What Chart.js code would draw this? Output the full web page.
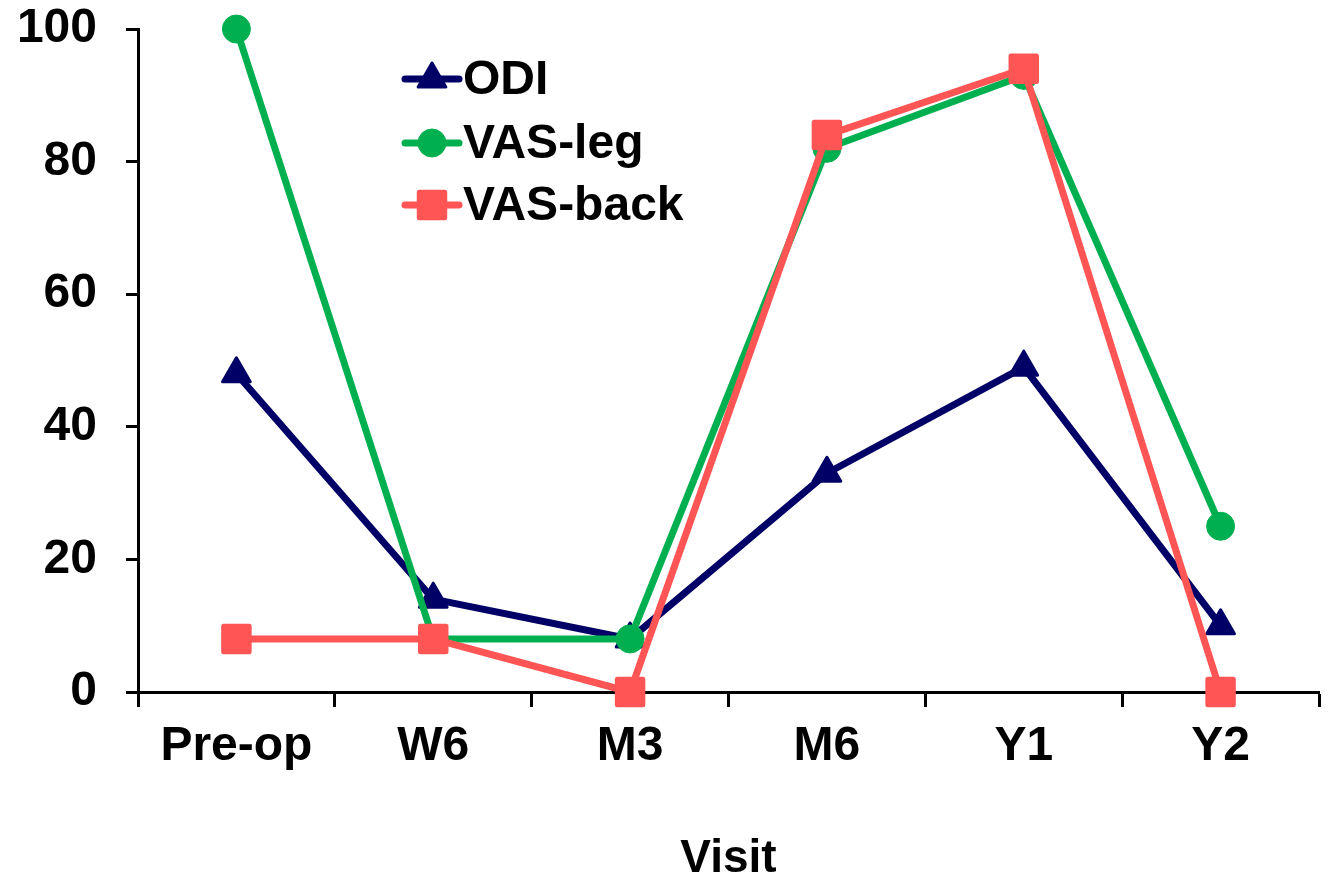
<!DOCTYPE html>
<html><head><meta charset="utf-8">
<script src="https://cdn.jsdelivr.net/npm/chart.js@4/dist/chart.umd.min.js"></script>
<style>html,body{margin:0;padding:0;background:#fff;} #wrap{width:1332px;height:882px;}</style>
</head><body><div id="wrap"><canvas id="c" width="1332" height="882"></canvas></div>
<script>
const visits = ['Pre-op','W6','M3','M6','Y1','Y2'];
const odi = [48,14,8,33,49,10];
const vasLeg = [100,8,8,82,93,25];
const vasBack = [8,8,0,84,94,0];
const yTicks = [0,20,40,60,80,100];
const seriesNames = ['ODI','VAS-leg','VAS-back'];
const seriesColors = ['#000066','#00B050','#FF5555'];

const FONT = 'Arial, "Liberation Sans", sans-serif';

const joinPlugin = {
  id: 'roundJoin',
  beforeDatasetDraw(chart){ chart.ctx.lineJoin = 'round'; }
};

const legendPlugin = {
  id: 'inLegend',
  afterDatasetsDraw(chart){
    const ctx = chart.ctx;
    const rows = [79, 143, 205];
    chart.data.datasets.forEach((ds, i) => {
      const y = rows[i];
      ctx.save();
      ctx.strokeStyle = ds.borderColor; ctx.lineWidth = 7; ctx.lineCap = 'round';
      ctx.beginPath(); ctx.moveTo(405, y); ctx.lineTo(459, y); ctx.stroke();
      ctx.fillStyle = ds.pointBackgroundColor; ctx.strokeStyle = ds.pointBorderColor;
      ctx.lineWidth = ds.pointBorderWidth; ctx.lineJoin = 'round';
      Chart.helpers.drawPoint(ctx, {pointStyle: ds.pointStyle, radius: ds.pointRadius, rotation: 0, borderWidth: ds.pointBorderWidth}, 432, y);
      ctx.fillStyle = '#000'; ctx.font = 'bold 48px ' + FONT;
      ctx.textBaseline = 'middle'; ctx.textAlign = 'left';
      ctx.fillText(ds.label, 463, y + 2);
      ctx.restore();
    });
  }
};

const styles = [
  {pointStyle: 'triangle', pointRadius: 16, pointBorderWidth: 3, order: 3},
  {pointStyle: 'circle', pointRadius: 14, pointBorderWidth: 1, order: 2},
  {pointStyle: 'rect', pointRadius: 18, pointBorderWidth: 5, order: 1}
];
const values = [odi, vasLeg, vasBack];

const datasets = values.map((v, i) => ({
  label: seriesNames[i],
  data: v,
  borderColor: seriesColors[i],
  backgroundColor: seriesColors[i],
  pointBackgroundColor: seriesColors[i],
  pointBorderColor: seriesColors[i],
  pointHoverRadius: styles[i].pointRadius,
  borderWidth: 7,
  borderJoinStyle: 'round',
  tension: 0,
  clip: false,
  ...styles[i]
}));

function noPad(s){ s.paddingTop = 0; s.paddingBottom = 0; s.paddingLeft = 0; s.paddingRight = 0; }

new Chart(document.getElementById('c'), {
  type: 'line',
  data: {labels: visits, datasets},
  plugins: [joinPlugin, legendPlugin],
  options: {
    responsive: false,
    animation: false,
    devicePixelRatio: 1,
    layout: {autoPadding: false, padding: {top: 29, right: 13, bottom: 0, left: 0}},
    plugins: {legend: {display: false}, tooltip: {enabled: false}},
    scales: {
      x: {
        type: 'category',
        offset: true,
        afterFit(s){ s.height = 190; noPad(s); },
        grid: {display: true, offset: true, drawOnChartArea: false, drawTicks: true, tickLength: 15, tickWidth: 3, tickColor: '#000'},
        border: {display: true, color: '#000', width: 3},
        ticks: {color: '#000', font: {family: FONT, size: 48, weight: 'bold'}, padding: 11, maxRotation: 0, autoSkip: false},
        title: {display: true, text: 'Visit', color: '#000', font: {family: FONT, size: 46, weight: 'bold', lineHeight: 1.0}, padding: {top: 0, bottom: 0}}
      },
      y: {
        min: 0, max: 100,
        afterFit(s){ s.width = 138; noPad(s); },
        afterBuildTicks(s){ s.ticks = yTicks.map(v => ({value: v})); },
        grid: {display: true, drawOnChartArea: false, drawTicks: true, tickLength: 12, tickWidth: 3, tickColor: '#000'},
        border: {display: true, color: '#000', width: 3},
        ticks: {color: '#000', font: {family: FONT, size: 48, weight: 'bold'}, padding: 29}
      }
    }
  }
});
</script>
</body></html>
